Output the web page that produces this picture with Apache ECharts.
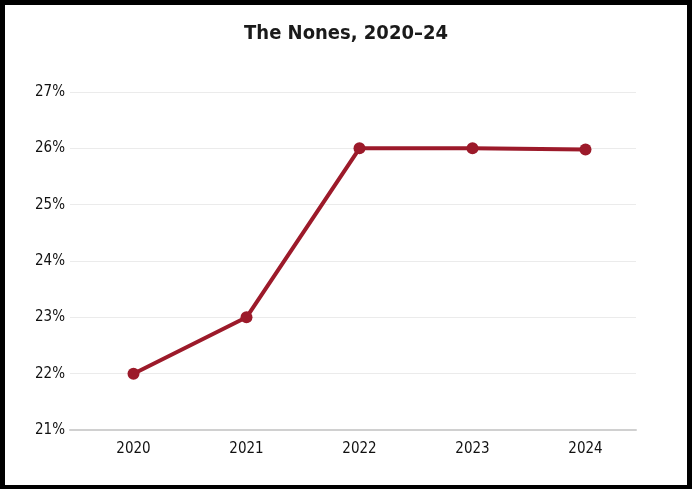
<!DOCTYPE html>
<html>
<head>
<meta charset="utf-8">
<script src="https://cdn.jsdelivr.net/npm/echarts@6/dist/echarts.min.js"></script>
<style>
html,body{margin:0;padding:0;background:#000;width:692px;height:489px;overflow:hidden;}
#frame{position:absolute;left:5px;top:5px;width:682px;height:480px;background:#fff;border-radius:3px;}
#chart{position:absolute;left:0;top:0;width:682px;height:480px;}
</style>
</head>
<body>
<div id="frame"><div id="chart"></div></div>
<script>
var titleText = "The Nones, 2020\u201324";
var categories = ["2020", "2021", "2022", "2023", "2024"];
var nonesShare = [22, 23, 26, 26, 25.98];
var yMin = 21, yMax = 27, yStep = 1;

var font = "'DejaVu Sans Condensed', 'Liberation Sans', Arial, sans-serif";
var chart = echarts.init(document.getElementById('chart'));
var gridBox = {top: 87, bottom: 55};
chart.setOption({
  backgroundColor: '#fff',
  animation: false,
  title: {
    text: titleText, left: 'center', top: 14,
    textStyle: {fontFamily: font, fontSize: 20, fontWeight: 'bold', color: '#1a1a1a'}
  },
  grid: [
    {left: 65, right: 51, top: gridBox.top, bottom: gridBox.bottom},
    {left: 72, right: 45, top: gridBox.top, bottom: gridBox.bottom}
  ],
  xAxis: [{
    gridIndex: 0, type: 'category', data: categories, boundaryGap: true,
    axisLine: {show: true, lineStyle: {color: '#d0d0d0', width: 2}},
    axisTick: {show: false},
    axisLabel: {show: false}
  }, {
    gridIndex: 1, type: 'category', data: categories, boundaryGap: true,
    axisLine: {show: false}, axisTick: {show: false},
    axisLabel: {fontFamily: font, fontSize: 15, color: '#111', margin: 12}
  }],
  yAxis: [{
    gridIndex: 0, type: 'value', min: yMin, max: yMax, interval: yStep,
    axisLine: {show: false}, axisTick: {show: false},
    axisLabel: {fontFamily: font, fontSize: 15, color: '#111', margin: 5, formatter: '{value}%'},
    splitLine: {lineStyle: {color: '#ebebeb', width: 1}}
  }, {
    gridIndex: 1, type: 'value', min: yMin, max: yMax, interval: yStep,
    axisLine: {show: false}, axisTick: {show: false},
    axisLabel: {show: false}, splitLine: {show: false}
  }],
  series: [{
    type: 'line', data: nonesShare, xAxisIndex: 1, yAxisIndex: 1,
    symbol: 'circle', symbolSize: 12,
    lineStyle: {color: '#9c1a2a', width: 4},
    itemStyle: {color: '#9c1a2a'}
  }]
});
</script>
</body>
</html>
